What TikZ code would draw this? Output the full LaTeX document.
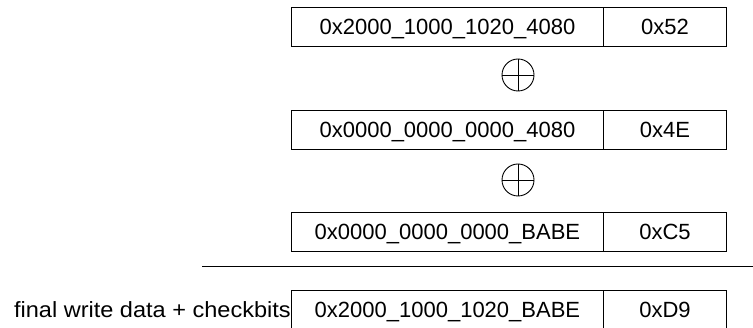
\documentclass[tikz,border=0pt]{standalone}
\usepackage{fontspec}
\setmainfont{Liberation Sans}
\begin{document}
\begin{tikzpicture}[x=1pt,y=-1pt,
  cell/.style={draw, line width=0.9pt, minimum height=39pt, inner sep=0pt, text height=16pt, text depth=0pt, anchor=north west, font=\fontsize{22}{22}\selectfont},
  xorsym/.style={draw, circle, line width=0.9pt, minimum size=32pt, inner sep=0pt},
  lbl/.style={font=\fontsize{22}{22}\selectfont, inner sep=0pt, text height=16pt, text depth=0pt}]
\useasboundingbox (0,0) rectangle (753,328);
% row 1
\node[cell, minimum width=312pt] (a1) at (291,7) {0x2000\_1000\_1020\_4080};
\node[cell, minimum width=123pt] (b1) at (603,7) {0x52};
\node[xorsym] (x1) at (518,75) {};
\draw[line width=0.9pt] (x1.north) -- (x1.south) (x1.west) -- (x1.east);
% row 2
\node[cell, minimum width=312pt] (a2) at (291,110) {0x0000\_0000\_0000\_4080};
\node[cell, minimum width=123pt] (b2) at (603,110) {0x4E};
\node[xorsym] (x2) at (518,180) {};
\draw[line width=0.9pt] (x2.north) -- (x2.south) (x2.west) -- (x2.east);
% row 3
\node[cell, minimum width=312pt] (a3) at (291,212) {0x0000\_0000\_0000\_BABE};
\node[cell, minimum width=123pt] (b3) at (603,212) {0xC5};
% sum line
\coordinate (l1) at (202,266);
\coordinate (l2) at (753,266);
\draw[line width=0.9pt] (l1) -- (l2);
% result
\node[cell, minimum width=312pt] (a4) at (291,290) {0x2000\_1000\_1020\_BABE};
\node[cell, minimum width=123pt] (b4) at (603,290) {0xD9};
\node[lbl, anchor=east] (t4) at (a4.west) {\scalebox{1.07}[1]{final write data + checkbits}};
\end{tikzpicture}
\end{document}
